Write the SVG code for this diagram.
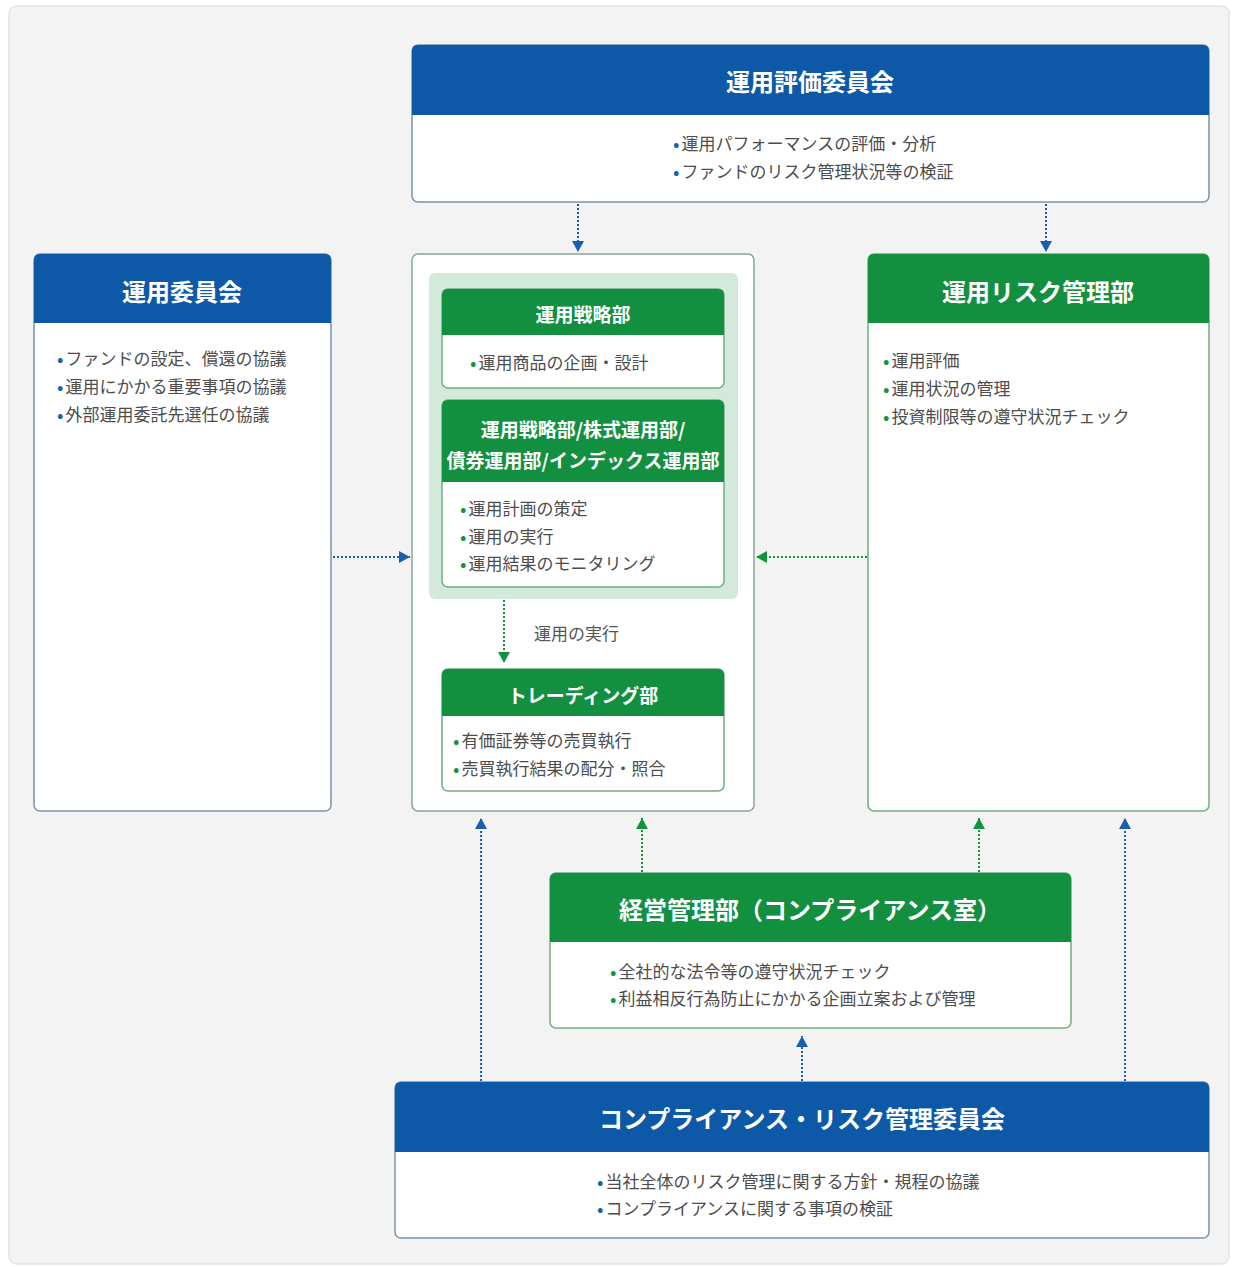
<svg xmlns="http://www.w3.org/2000/svg" width="1233" height="1267" viewBox="0 0 1233 1267">
<defs>
<style>
text{font-family:"Noto Sans CJK JP","Noto Sans",sans-serif;dominant-baseline:central}
.ttl{fill:#fff;font-weight:700;text-anchor:middle}
.t24{font-size:24px}
.t19{font-size:19px}
.bl{font-size:17px;fill:#4d4d4d}
.bb{fill:#1a5fae;font-size:19px}
.bg{fill:#14933f;font-size:19px}
.hb{fill:#0e58a8}
.hg{fill:#12903f}
.bodyB{fill:#fff;stroke:#7d93ad;stroke-width:1.5}
.bodyG{fill:#fff;stroke:#6fae82;stroke-width:1.5}
.lnB{fill:none;stroke:#1a5fae;stroke-width:2;stroke-dasharray:2 2;marker-end:url(#ab)}
.lnG{fill:none;stroke:#14933f;stroke-width:2;stroke-dasharray:2 2;marker-end:url(#ag)}
.lbl{font-size:17px;fill:#555}
</style>
<marker id="ab" markerUnits="userSpaceOnUse" markerWidth="12" markerHeight="12" refX="11" refY="6" orient="auto"><path d="M0,0 L11,6 L0,12 Z" fill="#1a5fae"/></marker>
<marker id="ag" markerUnits="userSpaceOnUse" markerWidth="12" markerHeight="12" refX="11" refY="6" orient="auto"><path d="M0,0 L11,6 L0,12 Z" fill="#14933f"/></marker>
</defs>
<rect x="0" y="0" width="1233" height="1267" fill="#fff"/>
<rect x="9" y="6" width="1220" height="1258" rx="8" fill="#f3f3f3" stroke="#e4e4e4" stroke-width="1.5"/>

<g id="eval-committee">
<rect class="bodyB" x="412" y="45" width="797" height="157" rx="6"/>
<path class="hb" d="M412,115 V51 Q412,45 418,45 H1203 Q1209,45 1209,51 V115 Z"/>
<text class="ttl t24" x="810" y="80">運用評価委員会</text>
<text class="bl" x="673" y="142"><tspan class="bb">•</tspan><tspan dx="2">運用パフォーマンスの評価・分析</tspan></text>
<text class="bl" x="673" y="170"><tspan class="bb">•</tspan><tspan dx="2">ファンドのリスク管理状況等の検証</tspan></text>
</g>

<g id="investment-committee">
<rect class="bodyB" x="34" y="254" width="297" height="557" rx="6"/>
<path class="hb" d="M34,323 V260 Q34,254 40,254 H325 Q331,254 331,260 V323 Z"/>
<text class="ttl t24" x="182" y="290">運用委員会</text>
<text class="bl" x="57" y="357"><tspan class="bb">•</tspan><tspan dx="2">ファンドの設定、償還の協議</tspan></text>
<text class="bl" x="57" y="385"><tspan class="bb">•</tspan><tspan dx="2">運用にかかる重要事項の協議</tspan></text>
<text class="bl" x="57" y="413"><tspan class="bb">•</tspan><tspan dx="2">外部運用委託先選任の協議</tspan></text>
</g>

<g id="center-container">
<rect x="412" y="254" width="342" height="557" rx="6" fill="#fff" stroke="#8aa596" stroke-width="1.5"/>
<rect x="429" y="273" width="309" height="326" rx="6" fill="#d3eadb"/>
</g>

<g id="strategy-dept">
<rect class="bodyG" x="442" y="289" width="282" height="99" rx="6"/>
<path class="hg" d="M442,335 V295 Q442,289 448,289 H718 Q724,289 724,295 V335 Z"/>
<text class="ttl t19" x="583" y="313">運用戦略部</text>
<text class="bl" x="470" y="361"><tspan class="bg">•</tspan><tspan dx="2">運用商品の企画・設計</tspan></text>
</g>

<g id="investment-depts">
<rect class="bodyG" x="442" y="400" width="282" height="187" rx="6"/>
<path class="hg" d="M442,482 V406 Q442,400 448,400 H718 Q724,400 724,406 V482 Z"/>
<text class="ttl t19" x="583" y="428">運用戦略部/株式運用部/</text>
<text class="ttl t19" x="583" y="459">債券運用部/インデックス運用部</text>
<text class="bl" x="460" y="507"><tspan class="bg">•</tspan><tspan dx="2">運用計画の策定</tspan></text>
<text class="bl" x="460" y="535"><tspan class="bg">•</tspan><tspan dx="2">運用の実行</tspan></text>
<text class="bl" x="460" y="562"><tspan class="bg">•</tspan><tspan dx="2">運用結果のモニタリング</tspan></text>
</g>

<g id="trading-dept">
<rect class="bodyG" x="442" y="669" width="282" height="122" rx="6"/>
<path class="hg" d="M442,716 V675 Q442,669 448,669 H718 Q724,669 724,675 V716 Z"/>
<text class="ttl t19" x="583" y="694">トレーディング部</text>
<text class="bl" x="453" y="739"><tspan class="bg">•</tspan><tspan dx="2">有価証券等の売買執行</tspan></text>
<text class="bl" x="453" y="767"><tspan class="bg">•</tspan><tspan dx="2">売買執行結果の配分・照合</tspan></text>
</g>

<g id="risk-dept">
<rect class="bodyG" x="868" y="254" width="341" height="557" rx="6"/>
<path class="hg" d="M868,323 V260 Q868,254 874,254 H1203 Q1209,254 1209,260 V323 Z"/>
<text class="ttl t24" x="1038" y="290">運用リスク管理部</text>
<text class="bl" x="883" y="359"><tspan class="bg">•</tspan><tspan dx="2">運用評価</tspan></text>
<text class="bl" x="883" y="387"><tspan class="bg">•</tspan><tspan dx="2">運用状況の管理</tspan></text>
<text class="bl" x="883" y="415"><tspan class="bg">•</tspan><tspan dx="2">投資制限等の遵守状況チェック</tspan></text>
</g>

<g id="management-dept">
<rect class="bodyG" x="550" y="873" width="521" height="155" rx="6"/>
<path class="hg" d="M550,942 V879 Q550,873 556,873 H1065 Q1071,873 1071,879 V942 Z"/>
<text class="ttl t24" x="810" y="908">経営管理部（コンプライアンス室）</text>
<text class="bl" x="610" y="970"><tspan class="bg">•</tspan><tspan dx="2">全社的な法令等の遵守状況チェック</tspan></text>
<text class="bl" x="610" y="997"><tspan class="bg">•</tspan><tspan dx="2">利益相反行為防止にかかる企画立案および管理</tspan></text>
</g>

<g id="compliance-committee">
<rect class="bodyB" x="395" y="1082" width="814" height="156" rx="6"/>
<path class="hb" d="M395,1152 V1088 Q395,1082 401,1082 H1203 Q1209,1082 1209,1088 V1152 Z"/>
<text class="ttl t24" x="802" y="1117">コンプライアンス・リスク管理委員会</text>
<text class="bl" x="597" y="1180"><tspan class="bb">•</tspan><tspan dx="2">当社全体のリスク管理に関する方針・規程の協議</tspan></text>
<text class="bl" x="597" y="1207"><tspan class="bb">•</tspan><tspan dx="2">コンプライアンスに関する事項の検証</tspan></text>
</g>

<g id="connectors">
<line class="lnB" x1="578" y1="204" x2="578" y2="252"/>
<line class="lnB" x1="1046" y1="204" x2="1046" y2="252"/>
<line class="lnB" x1="333" y1="557" x2="410" y2="557"/>
<line class="lnG" x1="867" y1="557" x2="756" y2="557"/>
<line class="lnG" x1="504" y1="600" x2="504" y2="663"/>
<line class="lnB" x1="481" y1="1081" x2="481" y2="818"/>
<line class="lnG" x1="642" y1="872" x2="642" y2="818"/>
<line class="lnG" x1="979" y1="872" x2="979" y2="818"/>
<line class="lnB" x1="1125" y1="1081" x2="1125" y2="818"/>
<line class="lnB" x1="802" y1="1081" x2="802" y2="1036"/>
<text class="lbl" x="534" y="632">運用の実行</text>
</g>
</svg>
